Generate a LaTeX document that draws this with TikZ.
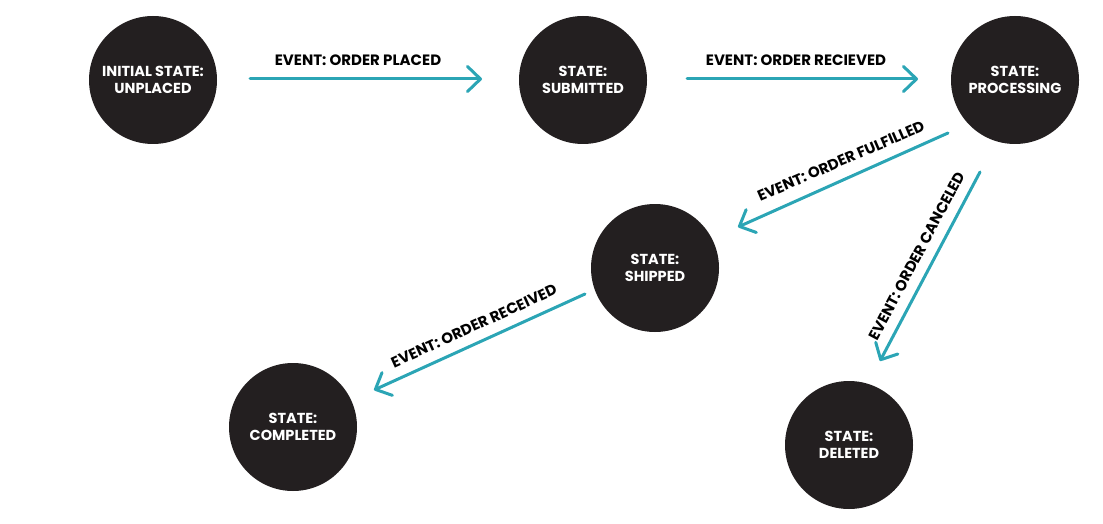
\documentclass[tikz,border=0pt]{standalone}
\usepackage{fontspec}
\setmainfont{Poppins}[BoldFont={* Bold}]
\usetikzlibrary{arrows.meta}
\definecolor{stateblack}{HTML}{231F20}
\definecolor{teal}{HTML}{2BA5B5}
\begin{document}
\begin{tikzpicture}[x=1pt,y=-1pt,
  state/.style={circle,fill=stateblack,minimum size=128pt,inner sep=0pt,
    text=white,font=\bfseries\fontsize{14.5}{16.5}\selectfont,align=center},
  trans/.style={draw=teal,line width=3pt,line cap=round,
    -{Straight Barb[length=13pt,width=25pt,line width=3pt,line cap=round,round]}},
  lbl/.style={font=\bfseries\fontsize{15}{17}\selectfont,text=black,inner sep=0pt}]
\useasboundingbox (0,0) rectangle (1103,524);
\node[state] (init) at (153,80) {INITIAL STATE:\\UNPLACED};
\node[state] (sub) at (583,80) {STATE:\\SUBMITTED};
\node[state] (proc) at (1015,80) {STATE:\\PROCESSING};
\node[state] (ship) at (655,268) {STATE:\\SHIPPED};
\node[state] (comp) at (293,427) {STATE:\\COMPLETED};
\node[state] (del) at (849,445) {STATE:\\DELETED};
\coordinate (a1s) at (250,79); \coordinate (a1e) at (482,79);
\coordinate (a2s) at (687,79); \coordinate (a2e) at (918,79);
\coordinate (a3s) at (948,133); \coordinate (a3e) at (738,227);
\coordinate (a4s) at (980,172); \coordinate (a4e) at (880,361);
\coordinate (a5s) at (585,294); \coordinate (a5e) at (374,390);
\draw[trans] (a1s) -- (a1e);
\draw[trans] (a2s) -- (a2e);
\draw[trans] (a3s) -- (a3e);
\draw[trans] (a4s) -- (a4e);
\draw[trans] (a5s) -- (a5e);
\node[lbl] (l1) at (358,60) {EVENT: ORDER PLACED};
\node[lbl] (l2) at (796,60) {EVENT: ORDER RECIEVED};
\node[lbl,rotate=23.5] (l3) at (841,161) {EVENT: ORDER FULFILLED};
\node[lbl,rotate=62] (l4) at (917,256) {EVENT: ORDER CANCELED};
\node[lbl,rotate=24.5] (l5) at (474,326) {EVENT: ORDER RECEIVED};
\end{tikzpicture}
\end{document}
